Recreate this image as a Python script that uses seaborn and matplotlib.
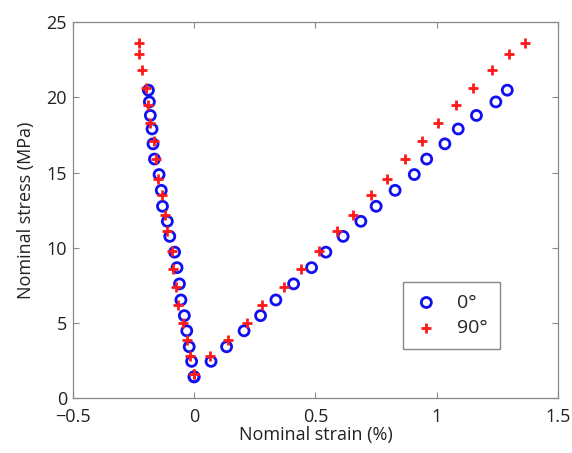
import seaborn as sns
import matplotlib.pyplot as plt
import pandas as pd

# 0 deg specimen: stress levels and strain on the two gauges
stress_0 = [1.42, 2.45, 3.42, 4.48, 5.49, 6.53, 7.6, 8.68, 9.71, 10.76,
            11.76, 12.76, 13.82, 14.87, 15.9, 16.91, 17.9, 18.8, 19.7, 20.48]
strain_0_lat = [0, -0.01, -0.02, -0.03, -0.04, -0.054, -0.06, -0.07, -0.08, -0.1,
                -0.11, -0.13, -0.135, -0.144, -0.163, -0.169, -0.173, -0.18, -0.184, -0.188]
strain_0_ax = [0, 0.07, 0.134, 0.206, 0.274, 0.337, 0.41, 0.484, 0.543, 0.614,
               0.687, 0.75, 0.828, 0.907, 0.958, 1.033, 1.088, 1.163, 1.243, 1.29]

# 90 deg specimen
stress_90 = [1.6, 2.8, 3.9, 5.0, 6.2, 7.4, 8.6, 9.8, 11.1, 12.2,
             13.5, 14.6, 15.9, 17.1, 18.3, 19.5, 20.6, 21.8, 22.9, 23.6]
strain_90_lat = [0, -0.016, -0.03, -0.047, -0.065, -0.074, -0.085, -0.092, -0.112, -0.119,
                 -0.133, -0.147, -0.157, -0.167, -0.181, -0.19, -0.199, -0.213, -0.226, -0.226]
strain_90_ax = [0, 0.066, 0.141, 0.217, 0.279, 0.372, 0.439, 0.516, 0.587, 0.653,
                0.728, 0.796, 0.87, 0.937, 1.005, 1.078, 1.15, 1.228, 1.298, 1.365]

sns.set_style('white')
plt.rcParams['font.family'] = ['Open Sans', 'DejaVu Sans']

df0 = pd.DataFrame({'strain': strain_0_lat + strain_0_ax, 'stress': stress_0 * 2})
df90 = pd.DataFrame({'strain': strain_90_lat + strain_90_ax, 'stress': stress_90 * 2})

fig = plt.figure(figsize=(5.72, 4.53), dpi=100)
ax = fig.add_axes([0.127, 0.121, 0.849, 0.830])

sns.scatterplot(data=df0, x='strain', y='stress', ax=ax, marker='o',
                s=52, facecolor='none', edgecolor='#1010f0', linewidth=2,
                label='0°')
sns.scatterplot(data=df90, x='strain', y='stress', ax=ax, marker='+',
                s=55, color='#ff1a1a', linewidth=2, label='90°')

ax.set_xlim(-0.5, 1.5)
ax.set_ylim(0, 25)
ax.set_xticks([-0.5, 0, 0.5, 1, 1.5])
ax.set_xticklabels(['\u22120.5', '0', '0.5', '1', '1.5'])
ax.set_yticks([0, 5, 10, 15, 20, 25])
ax.tick_params(direction='in', length=4, width=0.8, color='#888888',
               labelsize=13, labelcolor='#222222', top=True, right=True,
               bottom=True, left=True, pad=4)
ax.tick_params(axis='x', pad=7)
for sp in ax.spines.values():
    sp.set_color('#888888')
    sp.set_linewidth(0.9)

ax.set_xlabel('Nominal strain (%)', fontsize=13, color='#222222', labelpad=0)
ax.set_ylabel('Nominal stress (MPa)', fontsize=13, color='#222222', labelpad=8)

ax.legend(loc='center', bbox_to_anchor=(0.78, 0.22), fontsize=14,
          frameon=True, fancybox=False, edgecolor='#888888',
          framealpha=1, handlelength=1.2, handletextpad=1.0,
          borderpad=0.6, labelspacing=0.4, borderaxespad=0)

plt.savefig('out.png', dpi=100)
